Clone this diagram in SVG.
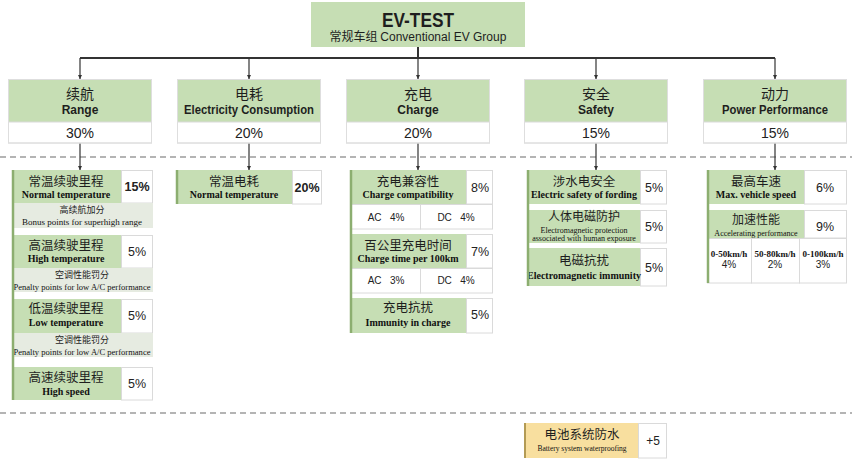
<svg xmlns="http://www.w3.org/2000/svg" width="852" height="461" viewBox="0 0 852 461">
<defs>
<marker id="ah" markerWidth="5" markerHeight="5" refX="4" refY="2.5" orient="auto" markerUnits="userSpaceOnUse">
<path d="M0,0.5 L4,2.5 L0,4.5 z" fill="#333"/>
</marker>
<style>
.g{fill:#c6deb4}
.y{fill:#f8df9f}
.w{fill:#fff;stroke:#dadada;stroke-width:1}
.s{fill:#e6ebe1}
.bd{fill:none;stroke:#dedede;stroke-width:1}
.st{stroke:#8cae70;stroke-width:2.5}
.zh{font-family:"Noto Sans CJK SC","Noto Sans",sans-serif;fill:#1e1e1e;text-anchor:middle}
.ct{font-family:"Liberation Sans",Arial,sans-serif;font-weight:bold;fill:#1e1e1e;text-anchor:middle}
.en{font-family:"Liberation Serif","Times New Roman",serif;font-weight:bold;fill:#111;text-anchor:middle}
.sm{font-family:"Liberation Serif","Times New Roman",serif;fill:#111;text-anchor:middle}
.p{font-family:"Liberation Sans",Arial,sans-serif;fill:#222;text-anchor:middle}
.cn{fill:none;stroke:#333}
.dash{fill:none;stroke:#9c9c9c;stroke-width:1.3;stroke-dasharray:6 4}
</style>
</defs>
<rect width="852" height="461" fill="#fff"/>

<g id="separators">
<line class="dash" x1="0" y1="157" x2="852" y2="157"/>
<line class="dash" x1="0" y1="413" x2="852" y2="413"/>
</g>

<g id="connectors">
<path class="cn" stroke-width="2" d="M418 47 V58 M80 58 H775"/>
<path class="cn" stroke-width="1.2" marker-end="url(#ah)" d="M80 58 V79"/>
<path class="cn" stroke-width="1.2" marker-end="url(#ah)" d="M249 58 V79"/>
<path class="cn" stroke-width="1.2" marker-end="url(#ah)" d="M418 58 V79"/>
<path class="cn" stroke-width="1.2" marker-end="url(#ah)" d="M596 58 V79"/>
<path class="cn" stroke-width="1.2" marker-end="url(#ah)" d="M775 58 V79"/>
<path class="cn" stroke-width="1.2" marker-end="url(#ah)" d="M80 143 V170"/>
<path class="cn" stroke-width="1.2" marker-end="url(#ah)" d="M249 143 V170"/>
<path class="cn" stroke-width="1.2" marker-end="url(#ah)" d="M418 143 V170"/>
<path class="cn" stroke-width="1.2" marker-end="url(#ah)" d="M596 143 V170"/>
<path class="cn" stroke-width="1.2" marker-end="url(#ah)" d="M775 143 V170"/>
</g>

<g id="root">
<rect class="g" x="311" y="2" width="214" height="45"/>
<text class="ct" x="418" y="27" font-size="21" textLength="72" lengthAdjust="spacingAndGlyphs">EV-TEST</text>
<text class="zh" x="418" y="41" font-size="12">常规车组   <tspan font-family="Liberation Sans,Arial,sans-serif">Conventional EV Group</tspan></text>
</g>

<g id="cat-range">
<rect class="g" x="8" y="79" width="144" height="43"/>
<rect class="w" x="8.5" y="122" width="143" height="21"/>
<rect class="bd" x="8.5" y="79.5" width="143" height="63.5"/>
<text class="zh" x="80" y="99" font-size="14">续航</text>
<text class="ct" x="80" y="114" font-size="12">Range</text>
<text class="p" x="80" y="138" font-size="14">30%</text>
</g>
<g id="cat-elec">
<rect class="g" x="177" y="79" width="144" height="43"/>
<rect class="w" x="177.5" y="122" width="143" height="21"/>
<rect class="bd" x="177.5" y="79.5" width="143" height="63.5"/>
<text class="zh" x="249" y="99" font-size="14">电耗</text>
<text class="ct" x="249" y="114" font-size="12" textLength="130" lengthAdjust="spacingAndGlyphs">Electricity Consumption</text>
<text class="p" x="249" y="138" font-size="14">20%</text>
</g>
<g id="cat-charge">
<rect class="g" x="346" y="79" width="144" height="43"/>
<rect class="w" x="346.5" y="122" width="143" height="21"/>
<rect class="bd" x="346.5" y="79.5" width="143" height="63.5"/>
<text class="zh" x="418" y="99" font-size="14">充电</text>
<text class="ct" x="418" y="114" font-size="12">Charge</text>
<text class="p" x="418" y="138" font-size="14">20%</text>
</g>
<g id="cat-safety">
<rect class="g" x="524" y="79" width="144" height="43"/>
<rect class="w" x="524.5" y="122" width="143" height="21"/>
<rect class="bd" x="524.5" y="79.5" width="143" height="63.5"/>
<text class="zh" x="596" y="99" font-size="14">安全</text>
<text class="ct" x="596" y="114" font-size="12">Safety</text>
<text class="p" x="596" y="138" font-size="14">15%</text>
</g>
<g id="cat-power">
<rect class="g" x="703" y="79" width="144" height="43"/>
<rect class="w" x="703.5" y="122" width="143" height="21"/>
<rect class="bd" x="703.5" y="79.5" width="143" height="63.5"/>
<text class="zh" x="775" y="99" font-size="14">动力</text>
<text class="ct" x="775" y="114" font-size="12" textLength="106" lengthAdjust="spacingAndGlyphs">Power Performance</text>
<text class="p" x="775" y="138" font-size="14">15%</text>
</g>

<!-- Range column -->
<g id="range-normal">
<rect class="g" x="12" y="170" width="109" height="33"/>
<rect class="w" x="121.5" y="170.5" width="31" height="32.5"/>
<text class="zh" x="66" y="186" font-size="12.5">常温续驶里程</text>
<text class="en" x="66" y="198" font-size="10">Normal temperature</text>
<text class="p" x="137" y="191" font-size="12.5" font-weight="bold">15%</text>
</g>
<g id="range-bonus">
<rect class="s" x="12" y="203" width="141" height="25"/>
<text class="zh" x="82" y="213" font-size="9">高续航加分</text>
<text class="sm" x="82" y="225" font-size="9">Bonus points for superhigh range</text>
</g>
<g id="range-high">
<rect class="g" x="12" y="235" width="109" height="33"/>
<rect class="w" x="121.5" y="235.5" width="31" height="32.5"/>
<text class="zh" x="66" y="250" font-size="12.5">高温续驶里程</text>
<text class="en" x="66" y="262" font-size="10">High temperature</text>
<text class="p" x="137" y="256" font-size="12.5">5%</text>
</g>
<g id="range-penalty1">
<rect class="s" x="12" y="268" width="141" height="24"/>
<text class="zh" x="82" y="278" font-size="9">空调性能罚分</text>
<text class="sm" x="82" y="289.5" font-size="9" textLength="137" lengthAdjust="spacingAndGlyphs">Penalty points for low A/C performance</text>
</g>
<g id="range-low">
<rect class="g" x="12" y="299" width="109" height="34"/>
<rect class="w" x="121.5" y="299.5" width="31" height="33.5"/>
<text class="zh" x="66" y="313" font-size="12.5">低温续驶里程</text>
<text class="en" x="66" y="326" font-size="10">Low temperature</text>
<text class="p" x="137" y="320" font-size="12.5">5%</text>
</g>
<g id="range-penalty2">
<rect class="s" x="12" y="333" width="141" height="24"/>
<text class="zh" x="82" y="343" font-size="9">空调性能罚分</text>
<text class="sm" x="82" y="354.5" font-size="9" textLength="137" lengthAdjust="spacingAndGlyphs">Penalty points for low A/C performance</text>
</g>
<g id="range-highspeed">
<rect class="g" x="12" y="367" width="109" height="33"/>
<rect class="w" x="121.5" y="367.5" width="31" height="32.5"/>
<text class="zh" x="66" y="382" font-size="12.5">高速续驶里程</text>
<text class="en" x="66" y="395" font-size="10">High speed</text>
<text class="p" x="137" y="388" font-size="12.5">5%</text>
</g>
<line class="st" x1="13" y1="170" x2="13" y2="400"/>

<!-- Electricity column -->
<g id="elec-normal">
<rect class="g" x="176" y="170" width="116" height="34"/>
<rect class="w" x="292.5" y="170.5" width="29" height="33.5"/>
<text class="zh" x="234" y="186" font-size="12.5">常温电耗</text>
<text class="en" x="234" y="198" font-size="10">Normal temperature</text>
<text class="p" x="307" y="192" font-size="12.5" font-weight="bold">20%</text>
<line class="st" x1="177" y1="170" x2="177" y2="204"/>
</g>

<!-- Charge column -->
<g id="charge-compat">
<rect class="g" x="350" y="170" width="116" height="34"/>
<rect class="w" x="466.5" y="170.5" width="26" height="33.5"/>
<text class="zh" x="408" y="186" font-size="12.5">充电兼容性</text>
<text class="en" x="408" y="198" font-size="10">Charge compatibility</text>
<text class="p" x="480" y="192" font-size="12.5">8%</text>
</g>
<g id="charge-compat-acdc">
<rect class="w" x="350.5" y="204.5" width="70" height="24.5"/>
<rect class="w" x="420.5" y="204.5" width="72" height="24.5"/>
<text class="p" x="386" y="221" font-size="10" xml:space="preserve">AC   4%</text>
<text class="p" x="456" y="221" font-size="10" xml:space="preserve">DC   4%</text>
</g>
<g id="charge-time">
<rect class="g" x="350" y="234" width="116" height="34"/>
<rect class="w" x="466.5" y="234.5" width="26" height="33.5"/>
<text class="zh" x="408" y="250" font-size="12.5">百公里充电时间</text>
<text class="en" x="408" y="262" font-size="10">Charge time per 100km</text>
<text class="p" x="480" y="256" font-size="12.5">7%</text>
</g>
<g id="charge-time-acdc">
<rect class="w" x="350.5" y="268.5" width="70" height="24.5"/>
<rect class="w" x="420.5" y="268.5" width="72" height="24.5"/>
<text class="p" x="386" y="284" font-size="10" xml:space="preserve">AC   3%</text>
<text class="p" x="456" y="284" font-size="10" xml:space="preserve">DC   4%</text>
</g>
<g id="charge-immunity">
<rect class="g" x="350" y="298" width="116" height="35"/>
<rect class="w" x="466.5" y="298.5" width="26" height="34.5"/>
<text class="zh" x="408" y="312" font-size="12.5">充电抗扰</text>
<text class="en" x="408" y="326" font-size="10">Immunity in charge</text>
<text class="p" x="480" y="319" font-size="12.5">5%</text>
</g>
<line class="st" x1="351" y1="170" x2="351" y2="333"/>

<!-- Safety column -->
<g id="safety-fording">
<rect class="g" x="527" y="170" width="113" height="34"/>
<rect class="w" x="640.5" y="170.5" width="26" height="33.5"/>
<text class="zh" x="584" y="186" font-size="12.5">涉水电安全</text>
<text class="en" x="584" y="198" font-size="10">Electric safety of fording</text>
<text class="p" x="654" y="192" font-size="12.5">5%</text>
</g>
<g id="safety-em-protection">
<rect class="g" x="527" y="210" width="113" height="33"/>
<rect class="w" x="640.5" y="210.5" width="26" height="32.5"/>
<text class="zh" x="584" y="221" font-size="12">人体电磁防护</text>
<text class="sm" x="584" y="233" font-size="8">Electromagnetic protection</text>
<text class="sm" x="584" y="241" font-size="8">associated with human exposure</text>
<text class="p" x="654" y="231" font-size="12.5">5%</text>
</g>
<g id="safety-em-immunity">
<rect class="g" x="527" y="248" width="113" height="38"/>
<rect class="w" x="640.5" y="248.5" width="26" height="37.5"/>
<text class="zh" x="584" y="265" font-size="12.5">电磁抗扰</text>
<text class="en" x="584" y="279" font-size="10">Electromagnetic immunity</text>
<text class="p" x="654" y="272" font-size="12.5">5%</text>
</g>
<line class="st" x1="528" y1="170" x2="528" y2="286"/>

<!-- Power column -->
<g id="power-maxspeed">
<rect class="g" x="707" y="170" width="97" height="34"/>
<rect class="w" x="804.5" y="170.5" width="42" height="33.5"/>
<text class="zh" x="756" y="186" font-size="12.5">最高车速</text>
<text class="en" x="756" y="198" font-size="10">Max. vehicle speed</text>
<text class="p" x="825" y="192" font-size="12.5">6%</text>
</g>
<g id="power-accel">
<rect class="g" x="707" y="210" width="97" height="28"/>
<rect class="w" x="804.5" y="210.5" width="42" height="27.5"/>
<text class="zh" x="756" y="224" font-size="12">加速性能</text>
<text class="sm" x="756" y="236" font-size="8">Accelerating performance</text>
<text class="p" x="825" y="231" font-size="12.5">9%</text>
</g>
<g id="power-accel-split">
<rect class="w" x="707.5" y="238.5" width="44" height="44.5"/>
<rect class="w" x="751.5" y="238.5" width="48" height="44.5"/>
<rect class="w" x="799.5" y="238.5" width="47" height="44.5"/>
<text class="en" x="729" y="257" font-size="9">0-50km/h</text>
<text class="p" x="729" y="268" font-size="10">4%</text>
<text class="en" x="775" y="257" font-size="9">50-80km/h</text>
<text class="p" x="775" y="268" font-size="10">2%</text>
<text class="en" x="823" y="257" font-size="9">0-100km/h</text>
<text class="p" x="823" y="268" font-size="10">3%</text>
</g>
<line class="st" x1="708" y1="170" x2="708" y2="283"/>

<!-- Bonus -->
<g id="battery-waterproof">
<rect class="y" x="524" y="423" width="114" height="35"/>
<rect class="w" x="638.5" y="423.5" width="28" height="34.5"/>
<line x1="525" y1="423" x2="525" y2="458" stroke="#b39b55" stroke-width="2"/>
<text class="zh" x="582" y="439" font-size="12.5">电池系统防水</text>
<text class="sm" x="582" y="451" font-size="7.5">Battery system waterproofing</text>
<text class="p" x="653" y="445" font-size="12">+5</text>
</g>
</svg>
